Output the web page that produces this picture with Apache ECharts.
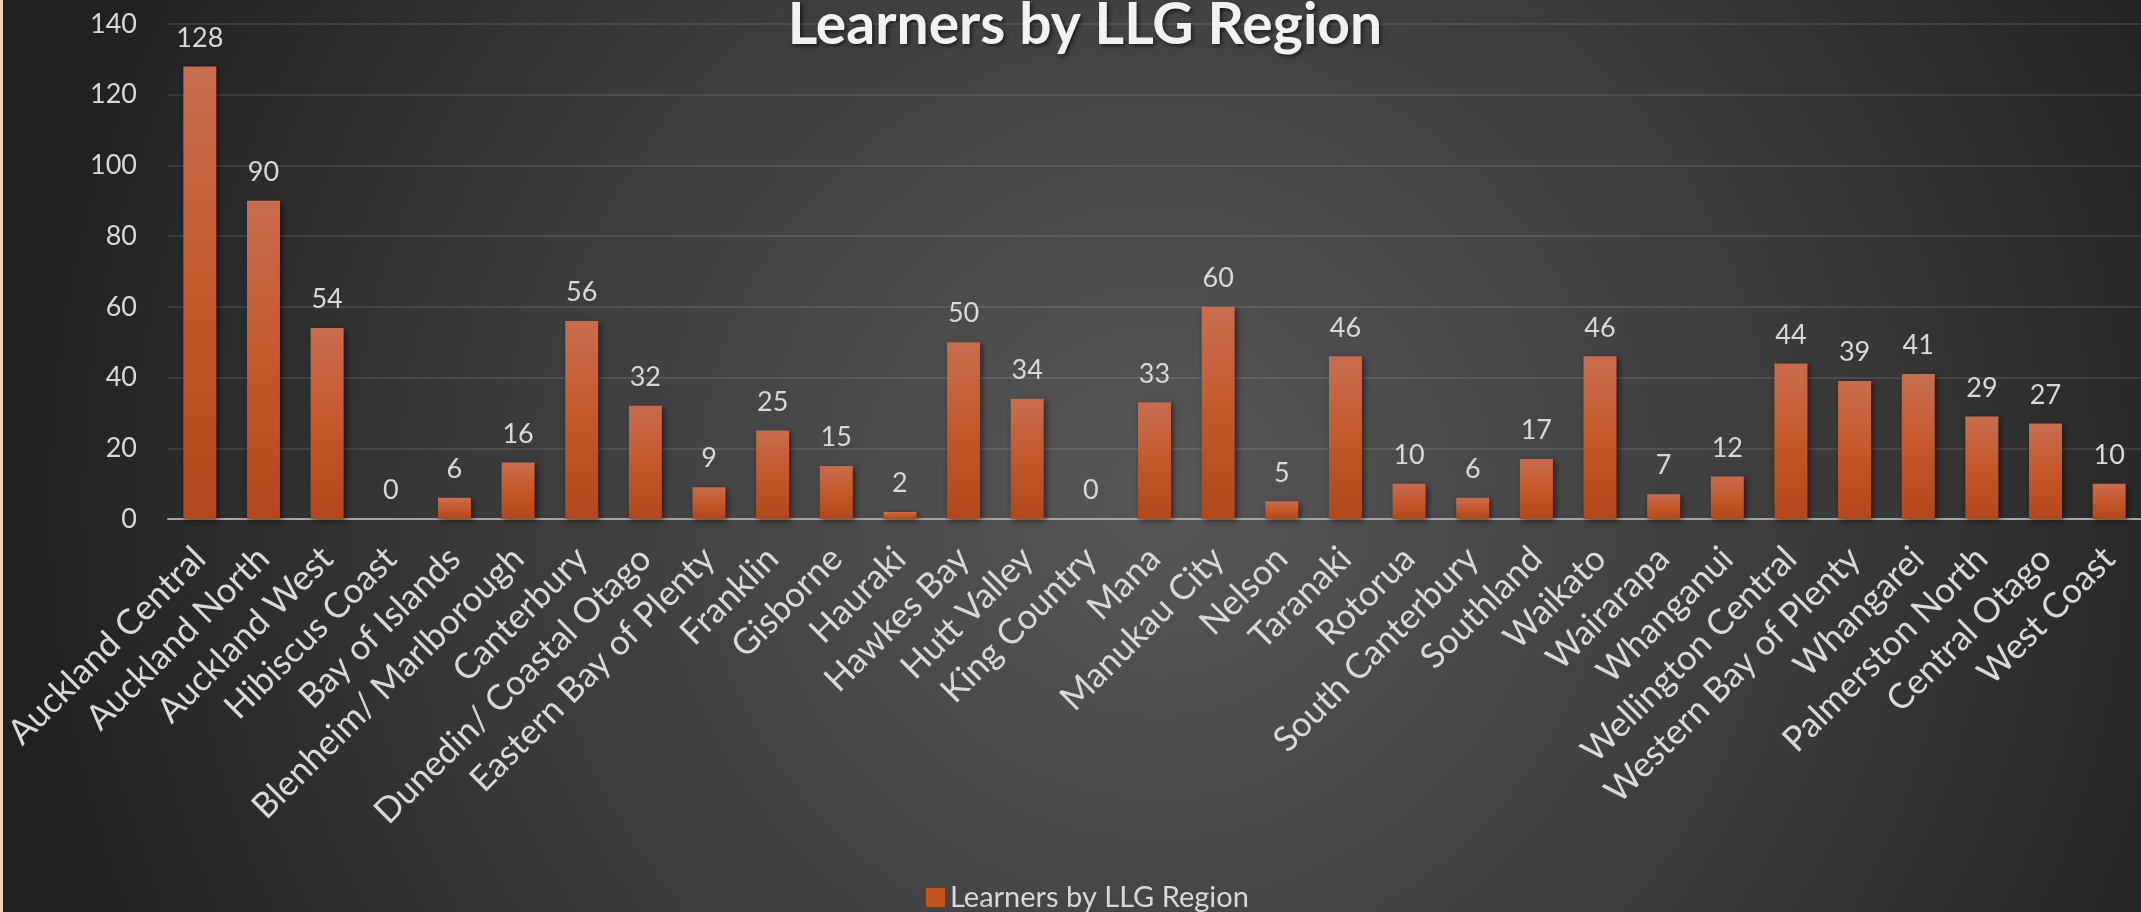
<!DOCTYPE html>
<html>
<head>
<meta charset="utf-8">
<title>Learners by LLG Region</title>
<script src="https://cdn.jsdelivr.net/npm/echarts@6/dist/echarts.min.js"></script>
<style>
    html, body { margin: 0; padding: 0; background: #2b2b2b; }
    #chart { width: 2141px; height: 912px; }
</style>
</head>
<body>
<div id="chart"></div>
<script>
// regions, in the order of the original sheet
const regions = [
    'Auckland Central', 'Auckland North', 'Auckland West', 'Hibiscus Coast', 'Bay of Islands',
    'Blenheim/ Marlborough', 'Canterbury', 'Dunedin/ Coastal Otago', 'Eastern Bay of Plenty', 'Franklin',
    'Gisborne', 'Hauraki', 'Hawkes Bay', 'Hutt Valley', 'King Country',
    'Mana', 'Manukau City', 'Nelson', 'Taranaki', 'Rotorua',
    'South Canterbury', 'Southland', 'Waikato', 'Wairarapa', 'Whanganui',
    'Wellington Central', 'Western Bay of Plenty', 'Whangarei', 'Palmerston North', 'Central Otago',
    'West Coast'
]

// learners per region
const learners = [
    128, 90, 54, 0, 6,
    16, 56, 32, 9, 25,
    15, 2, 50, 34, 0,
    33, 60, 5, 46, 10,
    6, 17, 46, 7, 12,
    44, 39, 41, 29, 27,
    10
]

const yTicks = { min: 0, max: 140, step: 20 }
const seriesName = 'Learners by LLG Region'

const font = 'Lato, "Open Sans", sans-serif'
const textColor = '#d9d9d9'

const chart = echarts.init(document.getElementById('chart'))

chart.setOption({
    backgroundColor: {
        type: 'radial', x: 0.54, y: 0.55, r: 1.25,
        colorStops: [
            { offset: 0, color: '#575757' },
            { offset: 0.55, color: '#3c3c3c' },
            { offset: 1, color: '#212121' },
        ],
    },
    graphic: [
        // thin pale edge on the left of the screenshot
        { type: 'rect', left: 0, top: 0, shape: { width: 3, height: 912 }, style: { fill: '#f0d2c4' } },
    ],
    title: {
        text: seriesName,
        left: 1085,
        top: -3,
        textAlign: 'center',
        padding: 0,
        textStyle: {
            fontFamily: font,
            fontSize: 57,
            fontWeight: 'bold',
            color: '#f2f2f2',
            textShadowColor: 'rgba(0,0,0,0.6)',
            textShadowBlur: 4,
            textShadowOffsetX: 2,
            textShadowOffsetY: 2,
        },
    },
    legend: {
        left: 926,
        top: 883,
        padding: 0,
        icon: 'rect',
        itemWidth: 19,
        itemHeight: 19,
        itemGap: 8,
        textStyle: { fontFamily: font, fontSize: 29, color: textColor },
        data: [{ name: seriesName, itemStyle: { color: '#c4531f' } }],
    },
    grid: {
        left: 167,
        top: 24,
        bottom: 393,
        width: 1989,
        containLabel: false,
    },
    xAxis: {
        type: 'category',
        data: regions,
        axisLine: { lineStyle: { color: '#a6a6a6', width: 2 } },
        axisTick: { show: false },
        axisLabel: {
            interval: 0,
            rotate: 45,
            margin: 34,
            // push the text down-right so its top-right corner sits at the tick
            padding: [36, 0, 0, 0],
            fontFamily: font,
            fontSize: 35,
            color: textColor,
        },
    },
    yAxis: {
        type: 'value',
        min: yTicks.min,
        max: yTicks.max,
        interval: yTicks.step,
        axisLine: { show: false },
        axisTick: { show: false },
        axisLabel: {
            margin: 31,
            fontFamily: font,
            fontSize: 27,
            color: textColor,
        },
        splitLine: { lineStyle: { color: 'rgba(255,255,255,0.1)', width: 2 } },
    },
    series: [
        {
            name: seriesName,
            type: 'bar',
            data: learners,
            barWidth: 33,
            itemStyle: {
                color: {
                    type: 'linear', x: 0, y: 0, x2: 0, y2: 1,
                    colorStops: [
                        { offset: 0, color: '#c86d50' },
                        { offset: 0.5, color: '#c5582a' },
                        { offset: 1, color: '#b4471b' },
                    ],
                },
                shadowColor: 'rgba(0,0,0,0.55)',
                shadowBlur: 6,
                shadowOffsetX: 2,
                shadowOffsetY: 2,
            },
            label: {
                show: true,
                position: 'top',
                distance: 15,
                fontFamily: font,
                fontSize: 27,
                color: textColor,
            },
        },
    ],
})

window.addEventListener('resize', () => chart.resize())
</script>
</body>
</html>
